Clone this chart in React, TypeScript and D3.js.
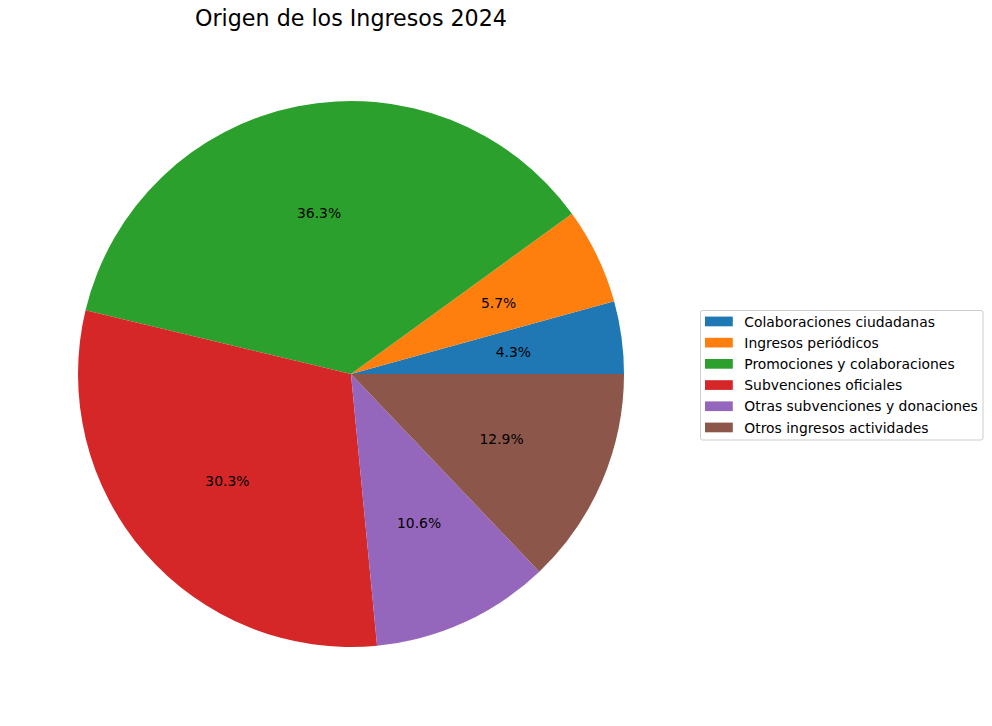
import React from "react";
import * as d3 from "d3";

const categories = [
  "Colaboraciones ciudadanas",
  "Ingresos periódicos",
  "Promociones y colaboraciones",
  "Subvenciones oficiales",
  "Otras subvenciones y donaciones",
  "Otros ingresos actividades",
];
const values = [4.3, 5.7, 36.3, 30.3, 10.6, 12.9];
const colors = ["#1f77b4", "#ff7f0e", "#2ca02c", "#d62728", "#9467bd", "#8c564b"];
const title = "Origen de los Ingresos 2024";

const W = 992;
const H = 726;
const cx = 351;
const cy = 374;
const R = 273;
const FONT = "DejaVu Sans, sans-serif";

export default function App() {
  const total = d3.sum(values);
  const pie = d3
    .pie<number>()
    .sort(null)
    .value((d) => d)
    .startAngle(Math.PI / 2)
    .endAngle(Math.PI / 2 - 2 * Math.PI);
  const arcs = pie(values);
  const arc = d3.arc<d3.PieArcDatum<number>>().innerRadius(0).outerRadius(R);
  const labelArc = d3.arc<d3.PieArcDatum<number>>().innerRadius(R * 0.6).outerRadius(R * 0.6);

  const legendX = 700.5;
  const legendY = 310.5;
  const rowH = 21.2;
  const legendYScale = d3
    .scaleLinear()
    .domain([0, 1])
    .range([legendY + 11, legendY + 11 + rowH]);

  return (
    <svg
      width={W}
      height={H}
      style={{ position: "absolute", left: 0, top: 0, background: "#fff" }}
      fontFamily={FONT}
    >
      <rect x={0} y={0} width={W} height={H} fill="#fff" />
      <text x={cx} y={26} textAnchor="middle" fontSize={22.2} fill="#000">
        {title}
      </text>
      <g transform={`translate(${cx},${cy})`}>
        {arcs.map((a, i) => (
          <path key={i} d={arc(a) || ""} fill={colors[i]} />
        ))}
        {arcs.map((a, i) => {
          const [x, y] = labelArc.centroid(a);
          return (
            <text
              key={"l" + i}
              x={x}
              y={y}
              textAnchor="middle"
              dominantBaseline="central"
              fontSize={13.9}
              fill="#000"
            >
              {((values[i] / total) * 100).toFixed(1)}%
            </text>
          );
        })}
      </g>
      <g>
        <rect
          x={legendX}
          y={legendY}
          width={282.5}
          height={129.5}
          rx={2}
          fill="#fff"
          fillOpacity={0.8}
          stroke="#cccccc"
          strokeWidth={1}
        />
        {categories.map((c, i) => {
          const y = legendYScale(i);
          return (
            <g key={c}>
              <rect x={705} y={y - 4.9} width={27.8} height={9.7} fill={colors[i]} />
              <text x={744.3} y={y} dominantBaseline="central" fontSize={13.9} fill="#000">
                {c}
              </text>
            </g>
          );
        })}
      </g>
    </svg>
  );
}
